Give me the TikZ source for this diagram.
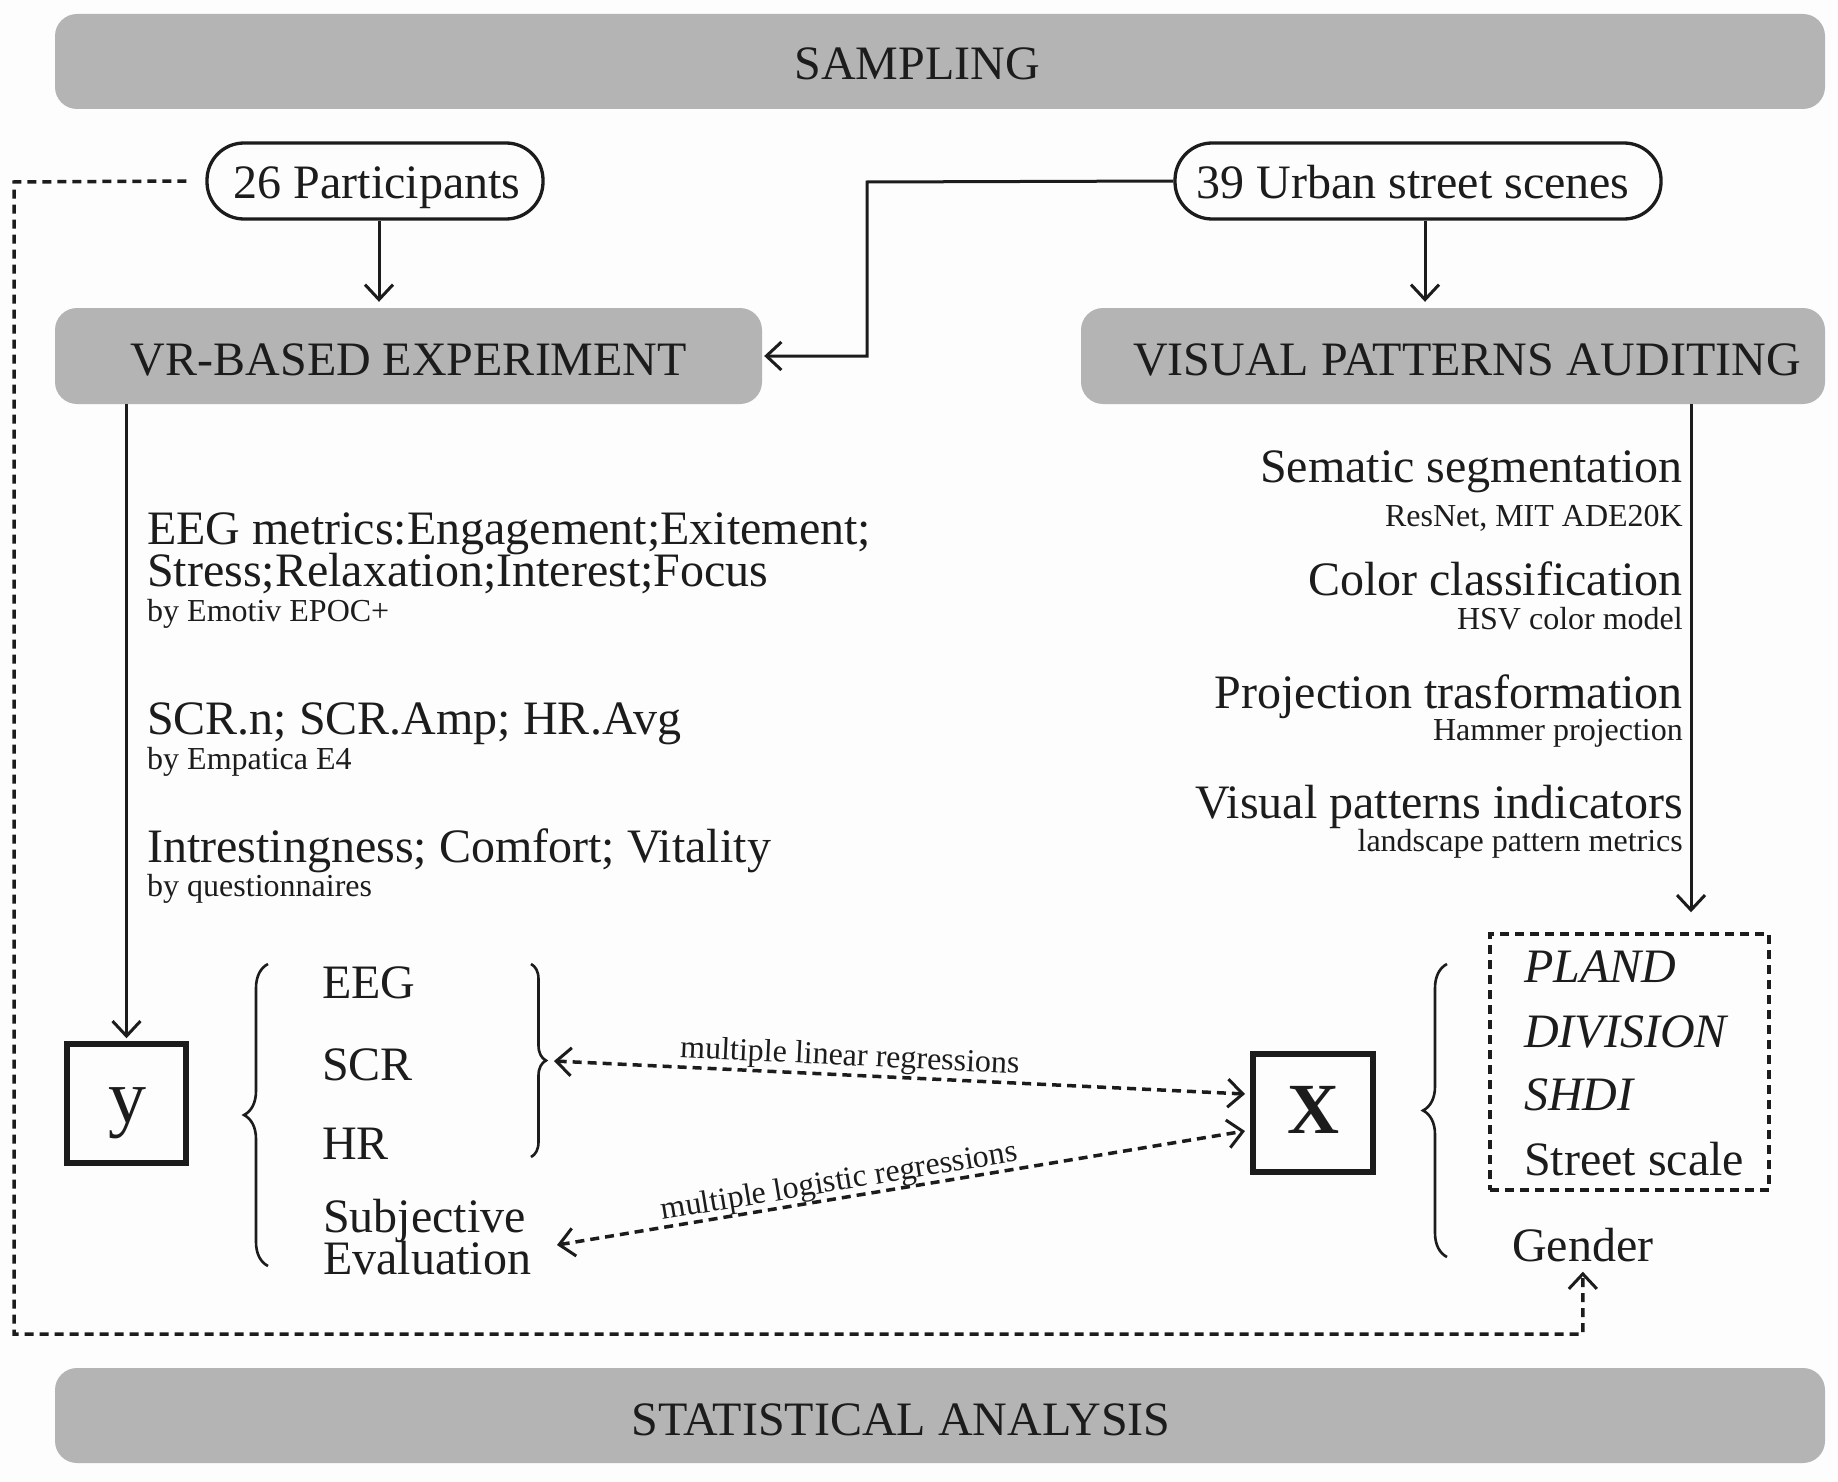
\documentclass[tikz,border=0pt]{standalone}
\usepackage{fontspec}
\setmainfont{Liberation Serif}
\usetikzlibrary{arrows.meta,decorations.pathreplacing,calc}
\definecolor{barGray}{RGB}{180,180,180}
\definecolor{inkc}{RGB}{28,28,28}
\definecolor{bgc}{RGB}{253,253,253}
\tikzset{
  bar/.style={fill=barGray, rounded corners=22pt, draw=none, inner sep=0pt},
  hd/.style={font=\fontsize{48}{48}\selectfont, text=inkc, inner sep=0pt},
  bigt/.style={font=\fontsize{48}{48}\selectfont, text=inkc, inner sep=0pt},
  smallt/.style={font=\fontsize{32}{32}\selectfont, text=inkc, inner sep=0pt},
  pill/.style={draw=inkc, line width=3.3pt, rounded corners=37pt, minimum height=76pt, inner sep=0pt},
  pillt/.style={font=\fontsize{48}{48}\selectfont, text=inkc, inner sep=0pt},
  varbox/.style={draw=inkc, line width=5.5pt, inner sep=0pt},
  conn/.style={line width=3pt, draw=inkc},
  dsh/.style={line width=3.5pt, draw=inkc, dash pattern=on 9pt off 6pt},
  tipb/.tip={Straight Barb[length=15pt,width=28pt,line width=3pt]},
  brc/.style={line width=2.6pt, draw=inkc, decorate},
}
\begin{document}
\begin{tikzpicture}[x=1pt,y=-1pt]
\useasboundingbox (0,0) rectangle (1838,1482);
\fill[bgc] (0,0) rectangle (1838,1482);

% bars
\node[bar, minimum width=1770pt, minimum height=95pt] (samp) at (940,61.5) {};
\node[hd, anchor=base] (sampT) at (917,80) {SAMPLING};
\node[bar, minimum width=707pt, minimum height=96pt] (vr) at (408.5,356) {};
\node[hd, anchor=base] (vrT) at (409,375) {VR-BASED EXPERIMENT};
\node[bar, minimum width=744pt, minimum height=96pt] (vpa) at (1453,356) {};
\node[hd, anchor=base] (vpaT) at (1467,375) {VISUAL PATTERNS AUDITING};
\node[bar, minimum width=1770pt, minimum height=95pt] (stat) at (940,1415.5) {};
\node[hd, anchor=base] (statT) at (901,1435) {STATISTICAL ANALYSIS};

% pills
\node[pill, minimum width=336pt] (p26) at (375,181) {};
\node[pillt, anchor=base] (p26T) at (377,198) {26 Participants};
\node[pill, minimum width=486pt] (p39) at (1418,181) {};
\node[pillt, anchor=base] (p39T) at (1413,198) {39 Urban street scenes};

% boxes
\node[varbox, minimum width=119pt, minimum height=119pt] (ybox) at (126.5,1103.5) {};
\node[inner sep=0pt, anchor=base, text=inkc, font=\fontsize{76}{76}\selectfont] (yT) at (127,1122) {y};
\node[varbox, minimum width=120pt, minimum height=118pt] (xbox) at (1313,1113) {};
\node[inner sep=0pt, anchor=base, text=inkc, font=\fontsize{72}{72}\selectfont\bfseries] (xT) at (1313,1133) {X};
\node[dsh, draw, minimum width=279pt, minimum height=256pt, inner sep=0pt] (dbox) at (1629.5,1062) {};

% left texts
\node[bigt, anchor=base west] (eeg1) at (147,544) {EEG metrics:Engagement;Exitement;};
\node[bigt, anchor=base west] (eeg2) at (147,586) {Stress;Relaxation;Interest;Focus};
\node[smallt, anchor=base west] (eeg3) at (147,621) {by Emotiv EPOC+};
\node[bigt, anchor=base west] (scr1) at (147,734) {SCR.n; SCR.Amp; HR.Avg};
\node[smallt, anchor=base west] (scr2) at (147,769) {by Empatica E4};
\node[bigt, anchor=base west] (int1) at (147,862) {Intrestingness; Comfort; Vitality};
\node[smallt, anchor=base west] (int2) at (147,896) {by questionnaires};

% right texts
\node[bigt, anchor=base east] (r1) at (1683,482) {Sematic segmentation};
\node[smallt, anchor=base east] (r1s) at (1683,526) {ResNet, MIT ADE20K};
\node[bigt, anchor=base east] (r2) at (1683,595) {Color classification};
\node[smallt, anchor=base east] (r2s) at (1683,629) {HSV color model};
\node[bigt, anchor=base east] (r3) at (1683,708) {Projection trasformation};
\node[smallt, anchor=base east] (r3s) at (1683,740) {Hammer projection};
\node[bigt, anchor=base east] (r4) at (1683,818) {Visual patterns indicators};
\node[smallt, anchor=base east] (r4s) at (1683,851) {landscape pattern metrics};

% y group
\node[bigt, anchor=base west] (gEEG) at (322,998) {EEG};
\node[bigt, anchor=base west] (gSCR) at (322,1080) {SCR};
\node[bigt, anchor=base west] (gHR) at (322,1159) {HR};
\node[bigt, anchor=base west] (gSub) at (323,1232) {Subjective};
\node[bigt, anchor=base west] (gEva) at (323,1274) {Evaluation};

% x group
\node[bigt, anchor=base west, font=\fontsize{48}{48}\selectfont\itshape] (xP) at (1524,982) {PLAND};
\node[bigt, anchor=base west, font=\fontsize{48}{48}\selectfont\itshape] (xD) at (1524,1047) {DIVISION};
\node[bigt, anchor=base west, font=\fontsize{48}{48}\selectfont\itshape] (xS) at (1524,1110) {SHDI};
\node[bigt, anchor=base west] (xSt) at (1524,1175) {Street scale};
\node[bigt, anchor=base west] (gender) at (1512,1261) {Gender};

% braces
\coordinate (lbA) at (268,1266); \coordinate (lbB) at (268,964);
\draw[brc, decoration={brace, amplitude=24pt}] (lbA) -- (lbB);
\coordinate (rbA) at (531,964); \coordinate (rbB) at (531,1157);
\draw[brc, decoration={brace, amplitude=15pt}] (rbA) -- (rbB);
\coordinate (xbA) at (1447,1257); \coordinate (xbB) at (1447,964);
\draw[brc, decoration={brace, amplitude=24pt}] (xbA) -- (xbB);

% solid connectors
\draw[conn, -{tipb}, shorten >=6pt] (p26.south -| 379,0) -- (379,0 |- vr.north);
\draw[conn, -{tipb}, shorten >=6pt] (p39.south -| 1425,0) -- (1425,0 |- vpa.north);
\coordinate (bend) at (867,182);
\draw[conn, -{tipb}, shorten >=2pt] (p39.west) -- (bend) |- (vr.east);
\draw[conn, -{tipb}, shorten >=3pt] (ybox.north |- vr.south) -- (ybox.north);
\coordinate (vpaX) at (1691,0);
\draw[conn, -{tipb}, shorten >=20pt] (vpaX |- vpa.south) -- (vpaX |- dbox.north);

% dashed loop
\coordinate (loopA) at (14,182); \coordinate (loopB) at (14,1334);
\draw[dsh, -{tipb}, shorten >=10pt] ([xshift=-19pt]p26.west) -- (loopA) -- (loopB) -| (gender.south);

% regression arrows
\coordinate (linL) at (554,1061); \coordinate (linR) at (1245,1094);
\coordinate (logL) at (557,1245); \coordinate (logR) at (1245,1131);
\draw[dsh, {tipb}-{tipb}] (linL) -- (linR) node[smallt, pos=.427, sloped, above=1pt] (linLab) {multiple linear regressions};
\draw[dsh, {tipb}-{tipb}] (logL) -- (logR) node[smallt, pos=.414, sloped, above=-1pt] (logLab) {multiple logistic regressions};
\end{tikzpicture}
\end{document}
